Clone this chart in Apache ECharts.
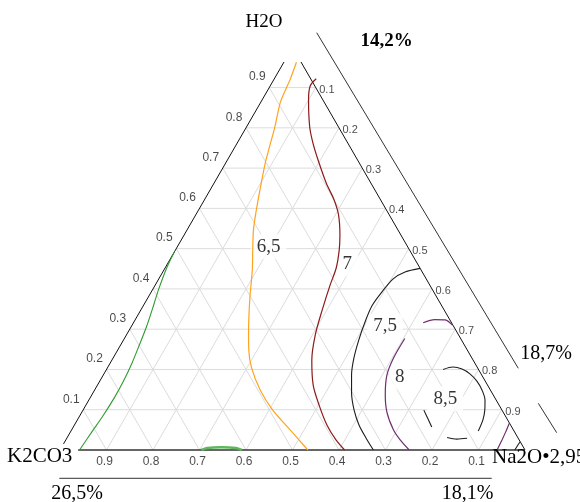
<!DOCTYPE html>
<html><head><meta charset="utf-8">
<style>html,body{margin:0;padding:0;background:#fff}#c{width:580px;height:502px}</style>
<script src="https://cdn.jsdelivr.net/npm/echarts@6/dist/echarts.min.js"></script>
</head><body><div id="c"></div>
<script>
// Ternary compositions: each point is [Na2O fraction, H2O fraction]; K2CO3 = 1 - Na2O - H2O
const ticks = [0.1, 0.2, 0.3, 0.4, 0.5, 0.6, 0.7, 0.8, 0.9];
const tickLabels = ['0.1','0.2','0.3','0.4','0.5','0.6','0.7','0.8','0.9'];
const vertexLabels = ['H2O', 'K2CO3', 'Na2O\u20222,95'];
const scaleLabels = ['14,2%', '18,7%', '26,5%', '18,1%'];

const contourLevels = ['6,5', '7', '7,5', '8', '8,5'];
const contourLabelPos = [[0.196,0.505],[0.387,0.462],[0.545,0.308],[0.640,0.181],[0.765,0.127]];

const contour65 = [[0.027,0.963],[0.035,0.919],[0.037,0.901],[0.042,0.864],[0.061,0.802],[0.073,0.757],[0.085,0.713],[0.107,0.646],[0.126,0.591],[0.143,0.546],[0.166,0.497],[0.190,0.447],[0.222,0.372],[0.260,0.291],[0.282,0.248],[0.310,0.204],[0.356,0.149],[0.408,0.099],[0.470,0.050],[0.533,0]];
const contour7 = [[0.090,0.922],[0.086,0.904],[0.100,0.869],[0.136,0.802],[0.163,0.762],[0.195,0.720],[0.241,0.663],[0.279,0.621],[0.307,0.584],[0.335,0.534],[0.352,0.497],[0.368,0.452],[0.376,0.410],[0.390,0.348],[0.406,0.286],[0.430,0.223],[0.464,0.161],[0.501,0.112],[0.543,0.062],[0.581,0.025],[0.612,0]];
const contour75 = [[0.549,0.451],[0.521,0.442],[0.504,0.425],[0.496,0.392],[0.492,0.358],[0.497,0.318],[0.506,0.273],[0.518,0.228],[0.534,0.186],[0.556,0.142],[0.583,0.099],[0.612,0.062],[0.643,0.030],[0.674,0], null, [0.978,0],[0.979,0.020]];
const contour8 = [[0.689,0.310],[0.667,0.323],[0.644,0.324],[0.623,0.316], null,
  [0.603,0.277],[0.603,0.228],[0.610,0.186],[0.631,0.137],[0.656,0.094],[0.692,0.050],[0.719,0.025],[0.751,0], null,
  [0.940,0],[0.938,0.025],[0.936,0.045],[0.933,0.066]];
const contour85 = [[0.724,0.200],[0.742,0.206],[0.764,0.201],[0.787,0.189],[0.811,0.171],[0.833,0.149],[0.852,0.124],[0.864,0.099],[0.872,0.075],[0.876,0.047], null,
  [0.861,0.029],[0.840,0.027],[0.817,0.031], null,
  [0.771,0.057],[0.753,0.077],[0.733,0.099]];
const contourGreen = [[0.000,0.493],[0.003,0.455],[0.013,0.397],[0.021,0.362],[0.033,0.306],[0.041,0.256],[0.047,0.215],[0.051,0.170],[0.052,0.130],[0.050,0.085],[0.046,0.045],[0.042,0]];
const contourGreenBase = [[0.304,0],[0.314,0.005],[0.343,0.007],[0.376,0.005],[0.391,0]];

const TOP = 0.9635;        // visible top of the triangle (apex is cut off)
const BASE_START = 0.039;  // baseline starts a little right of K2CO3 vertex
const LEFT_START = 0.015;

function toXY(p) { return [p[0] + p[1] / 2, p[1]]; }
function segs(arr) {
  const out = []; let cur = [];
  arr.forEach(p => { if (p === null) { if (cur.length) out.push(cur); cur = []; } else cur.push(p); });
  if (cur.length) out.push(cur);
  return out;
}
function lineSeries(pts, color, width, z, smooth) {
  return { type: 'line', data: pts.map(toXY), symbol: 'none', showSymbol: false,
    smooth: smooth || false, lineStyle: { color: color, width: width }, z: z,
    silent: true, animation: false, clip: false };
}

const series = [];
// grid
ticks.forEach(t => {
  series.push(lineSeries([[0, t], [1 - t, t]], '#dcdcdc', 1, 1));
  series.push(lineSeries([[t, 0], [t, 1 - t]], '#dcdcdc', 1, 1));
  series.push(lineSeries([[1 - t, 0], [0, 1 - t]], '#dcdcdc', 1, 1));
});
// edges
series.push(lineSeries([[0, LEFT_START], [0, TOP]], '#111', 1, 3));
series.push(lineSeries([[1, 0], [1 - TOP, TOP]], '#111', 1, 3));
series.push(lineSeries([[BASE_START, 0], [1, 0]], '#333', 1.5, 3));
// contours
const addC = (arr, color, w) => segs(arr).forEach(s => series.push(lineSeries(s, color, w, 4, 0.3)));
addC(contour65, '#ffa31f', 1.2);
addC(contour7, '#8b1a1a', 1.2);
addC(contour75, '#1e1e1e', 1.1);
addC(contour8, '#6e2f70', 1.2);
addC(contour85, '#1e1e1e', 1.1);
addC(contourGreen, '#2f9b2f', 1.1);
addC(contourGreenBase, '#5cb85c', 2.5);

// contour labels
series.push({ type: 'scatter', data: contourLabelPos.map(toXY), symbolSize: 0, z: 2, silent: true, animation: false,
  label: { show: true, position: 'inside', formatter: p => contourLevels[p.dataIndex],
    fontFamily: 'Liberation Serif', fontSize: 19, color: '#000', backgroundColor: '#fff', padding: [3, 6] } });

// tick labels
const tickLabelStyle = { show: true, position: 'inside', fontFamily: 'Liberation Sans', color: '#1a1a1a',
  formatter: p => tickLabels[p.dataIndex] };
series.push({ type: 'scatter', data: ticks.map(t => toXY([0, t])), symbolSize: 0, z: 5, silent: true, animation: false,
  label: Object.assign({}, tickLabelStyle, { fontSize: 12, align: 'center', verticalAlign: 'middle', offset: [-12, -10.5] }) });
series.push({ type: 'scatter', data: ticks.map(t => toXY([t, 1 - t])), symbolSize: 0, z: 5, silent: true, animation: false,
  label: Object.assign({}, tickLabelStyle, { fontSize: 11, align: 'left', verticalAlign: 'middle', offset: [3.5, 2] }) });
series.push({ type: 'scatter', data: ticks.map(t => toXY([1 - t, 0])), symbolSize: 0, z: 5, silent: true, animation: false,
  label: Object.assign({}, tickLabelStyle, { fontSize: 12, align: 'center', verticalAlign: 'middle', offset: [-2, 12] }) });

const serif = 'Liberation Serif';
function txt(x, y, text, size, bold, align) {
  const font = (bold ? 'bold ' : '') + size + 'px "' + serif + '"';
  return { type: 'text', x: x, y: y, z: 10,
    style: { text: text, font: font, fill: '#000', align: align || 'center', verticalAlign: 'middle',
      textAlign: align || 'center', textVerticalAlign: 'middle' } };
}
function ln(x1, y1, x2, y2) {
  return { type: 'line', z: 10, shape: { x1: x1, y1: y1, x2: x2, y2: y2 }, style: { stroke: '#333', lineWidth: 1 } };
}

const chart = echarts.init(document.getElementById('c'), null, { renderer: 'canvas' });
chart.setOption({
  animation: false,
  backgroundColor: '#fff',
  grid: { left: 0, right: 0, top: 0, bottom: 0, containLabel: false, outerBoundsMode: 'none' },
  xAxis: { type: 'value', min: -60 / 465, max: 520 / 465, show: false },
  yAxis: { type: 'value', min: -52 / 402.7, max: 450 / 402.7, show: false },
  series: series,
  graphic: [
    txt(264, 22, vertexLabels[0], 19, false),
    txt(7, 456, vertexLabels[1], 21, false, 'left'),
    txt(492, 457, vertexLabels[2], 21, false, 'left'),
    txt(386.5, 41.5, scaleLabels[0], 19, true),
    txt(546, 354, scaleLabels[1], 20, false),
    txt(77, 494, scaleLabels[2], 20, false),
    txt(467.5, 494, scaleLabels[3], 20, false),
    ln(316.7, 32.7, 518.3, 368.3),
    ln(538.3, 403.3, 556.7, 432.7),
    ln(59.3, 478.3, 491.7, 478.3)
  ]
});
</script>
</body></html>
